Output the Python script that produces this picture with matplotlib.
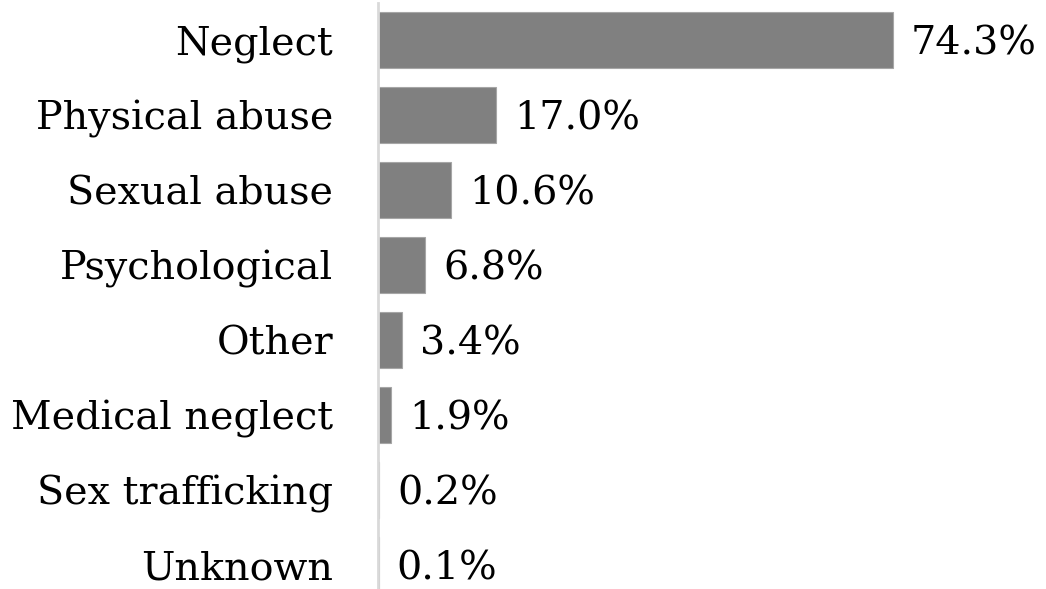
import matplotlib
matplotlib.use("Agg")
import matplotlib.pyplot as plt

categories = ["Neglect", "Physical abuse", "Sexual abuse", "Psychological",
              "Other", "Medical neglect", "Sex trafficking", "Unknown"]
values = [74.3, 17.0, 10.6, 6.8, 3.4, 1.9, 0.2, 0.1]
labels = ["74.3%", "17.0%", "10.6%", "6.8%", "3.4%", "1.9%", "0.2%", "0.1%"]

W, H = 1046, 589
fig = plt.figure(figsize=(W / 100, H / 100), dpi=100)
fig.patch.set_facecolor("white")
x0, x1 = 378, 1040
top, bot = 3, 589
ax = fig.add_axes([x0 / W, 1 - bot / H, (x1 - x0) / W, (bot - top) / H])

font = "DejaVu Serif"
fs = 28.5
ypos = list(range(len(categories)))
ax.barh(ypos, values, height=0.75, color="#808080", edgecolor="#a6a6a6", linewidth=0.8)
scale = (893 - 378) / 74.3  # px per unit
xmax = (x1 - x0) / scale
ax.set_xlim(0, xmax)
ax.set_ylim(7.32, -0.493)
for y, v, t in zip(ypos, values, labels):
    ax.text(v + 18 / scale, y + 0.05, t, va="center", ha="left", fontsize=fs,
            family=font, color="black")
ax.set_yticks(ypos)
ax.set_yticklabels(categories, fontsize=fs, family=font)
ax.tick_params(axis="y", length=0, pad=45 * 0.72)
ax.set_xticks([])
for s in ["top", "right", "bottom"]:
    ax.spines[s].set_visible(False)
ax.spines["left"].set_color("#d9d9d9")
ax.spines["left"].set_linewidth(2)
fig.savefig("out.png", dpi=100)
